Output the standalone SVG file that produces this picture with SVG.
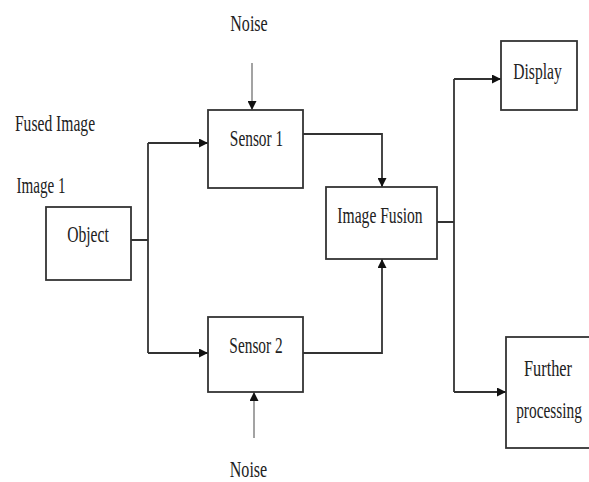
<svg xmlns="http://www.w3.org/2000/svg" width="589" height="482" viewBox="0 0 589 482">
<defs>
<marker id="ah" viewBox="0 0 10 10" refX="10" refY="5" markerWidth="9" markerHeight="9" markerUnits="userSpaceOnUse" orient="auto">
<path d="M0,0 L10,5 L0,10 Z" fill="#111"/>
</marker>
</defs>
<style>
.box{fill:#fff;stroke:#333;stroke-width:1.8}
.t{font-family:"Liberation Serif","Times New Roman",serif;font-size:24px;fill:#222;text-anchor:middle}
.ln{fill:none;stroke:#333;stroke-width:1.8}
.ar{fill:none;stroke:#333;stroke-width:1.8;marker-end:url(#ah)}
.nz{fill:none;stroke:#666;stroke-width:1.2;marker-end:url(#ah)}
</style>
<rect width="589" height="482" fill="#fff"/>
<g id="labels">
<text class="t" transform="translate(55,131) scale(0.65,1)">Fused Image</text>
<text class="t" transform="translate(41,193) scale(0.63,1)">Image 1</text>
<text class="t" transform="translate(249,31) scale(0.67,1)">Noise</text>
<text class="t" transform="translate(248.5,477) scale(0.67,1)">Noise</text>
</g>
<g id="connectors">
<path class="nz" d="M252,63 V110"/>
<path class="nz" d="M254,438 V392"/>
<path class="ln" d="M131,240 H148 M148,143 V353"/>
<path class="ar" d="M148,143 H208"/>
<path class="ar" d="M148,353 H208"/>
<path class="ar" d="M303,134 H382 V187"/>
<path class="ar" d="M303,353 H382 V259"/>
<path class="ln" d="M437,222 H454 M454,79 V392"/>
<path class="ar" d="M454,79 H501"/>
<path class="ar" d="M454,392 H506"/>
</g>
<g id="object">
<rect class="box" x="46" y="207" width="85" height="73"/>
<text class="t" transform="translate(88,242) scale(0.65,1)">Object</text>
</g>
<g id="sensor1">
<rect class="box" x="208" y="110" width="95" height="78"/>
<text class="t" transform="translate(256.5,146) scale(0.64,1)">Sensor 1</text>
</g>
<g id="sensor2">
<rect class="box" x="208" y="317" width="95" height="75"/>
<text class="t" transform="translate(256,353) scale(0.64,1)">Sensor 2</text>
</g>
<g id="image-fusion">
<rect class="box" x="326" y="187" width="111" height="72"/>
<text class="t" transform="translate(380,223) scale(0.65,1)">Image Fusion</text>
</g>
<g id="display">
<rect class="box" x="501" y="41" width="76" height="69"/>
<text class="t" transform="translate(537.5,79) scale(0.65,1)">Display</text>
</g>
<g id="further-processing">
<rect class="box" x="506" y="337" width="90" height="111"/>
<text class="t" transform="translate(548,376) scale(0.68,1)">Further</text>
<text class="t" transform="translate(549,418) scale(0.64,1)">processing</text>
</g>
</svg>
